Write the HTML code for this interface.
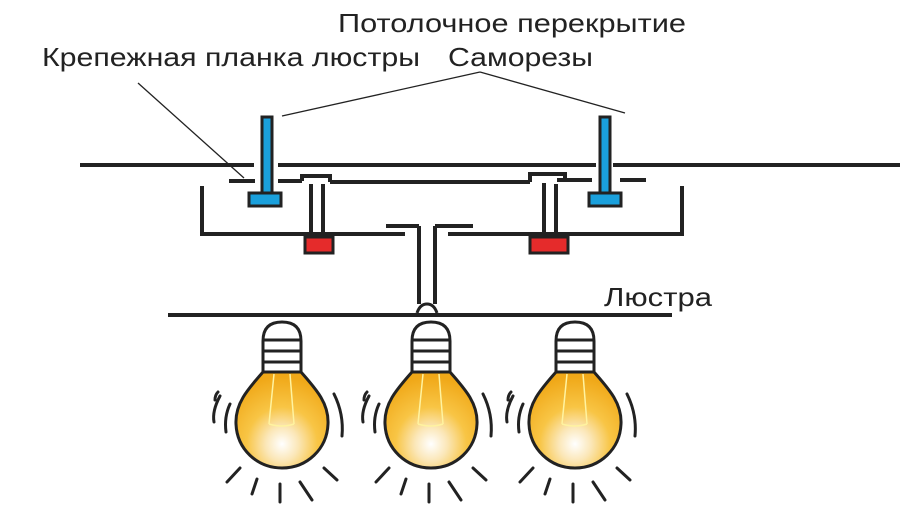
<!DOCTYPE html>
<html><head><meta charset="utf-8"><style>
html,body{margin:0;padding:0;background:#fff;width:900px;height:528px;overflow:hidden}
svg{display:block}
text{font-family:"Liberation Sans",sans-serif;fill:#222}
</style></head><body>
<svg width="900" height="528" viewBox="0 0 900 528" xmlns="http://www.w3.org/2000/svg">
<defs>
<radialGradient id="g" cx="0.5" cy="0.75" r="0.7">
<stop offset="0" stop-color="#fff"/><stop offset="0.25" stop-color="#fbe7b8"/><stop offset="0.55" stop-color="#f8c545"/><stop offset="1" stop-color="#f0a818"/>
</radialGradient>
<g id="bulb">
<path d="M-19,38 L-19,7 Q-19,-12 0,-12 Q19,-12 19,7 L19,38 Z" fill="#fff" stroke="#222" stroke-width="3"/>
<line x1="-19" y1="6" x2="19" y2="6" stroke="#222" stroke-width="3"/>
<line x1="-19" y1="17" x2="19" y2="17" stroke="#222" stroke-width="3"/>
<line x1="-19" y1="28" x2="19" y2="28" stroke="#222" stroke-width="3"/>
<path d="M-19,38 C-35,56 -47,70 -46,90 C-45,115 -25,134 0,134 C25,134 45,115 46,90 C47,70 35,56 19,38 Z" fill="url(#g)" stroke="#222" stroke-width="3"/>
<path d="M-8,40 L-13,90 M8,40 L12,90 M-13,90 Q0,94 12,90" stroke="#fff3a0" stroke-width="1.5" fill="none"/>
<g stroke="#222" stroke-width="3" fill="none" stroke-linecap="round">
<path d="M-52,70 Q-58,83 -56,98"/><path d="M-62,62 Q-70,77 -68,88"/><path d="M-64,58 Q-67,61 -67,66"/>
<path d="M52,60 Q62,80 60,102"/>
<path d="M-42,134 L-55,148"/><path d="M-25,145 L-30,160"/><path d="M-2,150 L-2,168"/><path d="M18,148 L30,166"/><path d="M42,134 L55,146"/>
</g>
</g>
</defs>

<text x="338" y="32" font-size="26" textLength="348" lengthAdjust="spacingAndGlyphs">Потолочное перекрытие</text>
<text x="42" y="66" font-size="26" textLength="378" lengthAdjust="spacingAndGlyphs">Крепежная планка люстры</text>
<text x="448" y="66" font-size="26" textLength="145" lengthAdjust="spacingAndGlyphs">Саморезы</text>
<text x="604" y="306" font-size="26" textLength="108" lengthAdjust="spacingAndGlyphs">Люстра</text>

<g stroke="#222" stroke-width="1.3" fill="none">
<line x1="138" y1="83" x2="244" y2="178"/>
<line x1="480" y1="72" x2="282" y2="116"/>
<line x1="480" y1="72" x2="625" y2="113"/>
</g>

<g stroke="#222" stroke-width="4" fill="none">
<line x1="80" y1="165" x2="254" y2="165"/>
<line x1="278" y1="165" x2="596" y2="165"/>
<line x1="613" y1="165" x2="900" y2="165"/>
<line x1="229" y1="181" x2="255" y2="181"/>
<line x1="278" y1="181" x2="302" y2="181"/>
<line x1="330" y1="182" x2="530" y2="182"/>
<line x1="557" y1="180" x2="592" y2="180"/>
<line x1="620" y1="180" x2="646" y2="180"/>
<path d="M302,181 L302,176 L330,176 L330,182"/>
<path d="M530,182 L530,174 L565,174 L565,178"/>
<line x1="311" y1="184" x2="311" y2="237"/>
<line x1="323" y1="184" x2="323" y2="237"/>
<line x1="544" y1="183" x2="544" y2="237"/>
<line x1="556" y1="184" x2="556" y2="237"/>
<path d="M202,186 L202,234 L405,234"/>
<path d="M448,234 L682,234 L682,186"/>
<line x1="386" y1="226" x2="419" y2="226"/>
<line x1="435" y1="226" x2="473" y2="226"/>
<line x1="419" y1="226" x2="419" y2="304"/>
<line x1="435" y1="226" x2="435" y2="304"/>
<path d="M417,313 Q420,304 427,304 Q434,304 437,313" stroke-width="3"/>
<line x1="168" y1="315" x2="672" y2="315"/>
</g>

<g stroke="#222" stroke-width="3">
<rect x="262" y="117" width="10" height="76" fill="#1aa0dc"/>
<rect x="249" y="193" width="32" height="13" fill="#1aa0dc"/>
<rect x="600" y="117" width="10" height="76" fill="#1aa0dc"/>
<rect x="589" y="193" width="32" height="13" fill="#1aa0dc"/>
<rect x="305" y="237" width="28" height="16" fill="#e52b2b"/>
<rect x="530" y="237" width="38" height="16" fill="#e52b2b"/>
</g>

<use href="#bulb" transform="translate(282,334)"/>
<use href="#bulb" transform="translate(431,334)"/>
<use href="#bulb" transform="translate(575,334)"/>
</svg>
</body></html>
